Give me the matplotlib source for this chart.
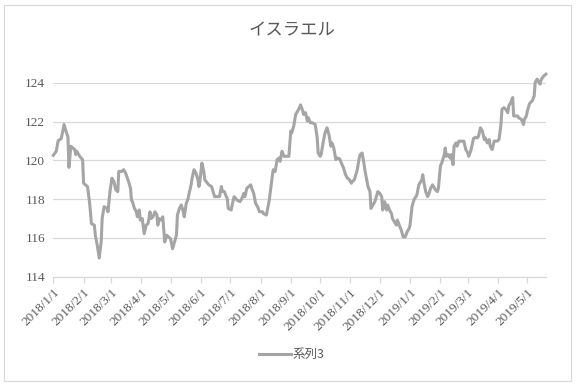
import matplotlib.pyplot as plt
import matplotlib.patches as patches
import pandas as pd

# dias contados a partir de 2018/1/1 e valor
dias = [0, 3, 5, 8, 9, 11, 13, 15, 16, 18, 20, 22, 23, 24, 27, 30, 31, 35, 37, 38,
        39, 42, 43, 45, 47, 49, 50, 52, 55, 56, 58, 60, 62, 64, 66, 67, 70, 72, 74, 77,
        79, 80, 81, 83, 85, 86, 88, 89, 91, 93, 95, 97, 99, 100, 102, 104, 106, 107, 108, 110,
        112, 114, 116, 120, 122, 124, 126, 127, 129, 131, 133, 134, 136, 138, 139, 141, 142, 144, 146, 148,
        149, 150, 152, 154, 155, 159, 162, 163, 165, 167, 170, 172, 173, 175, 177, 178, 179, 182, 183, 185,
        188, 191, 193, 195, 196, 198, 200, 202, 203, 205, 207, 209, 211, 214, 215, 218, 220, 221, 224, 225,
        227, 229, 231, 232, 234, 236, 238, 241, 243, 244, 246, 248, 249, 251, 253, 255, 256, 258, 260, 261,
        263, 265, 268, 270, 271, 273, 274, 276, 278, 280, 282, 284, 285, 287, 289, 290, 293, 294, 297, 299,
        301, 303, 305, 306, 308, 311, 313, 314, 316, 318, 319, 321, 322, 324, 325, 327, 329, 331, 332, 334,
        336, 337, 339, 341, 342, 344, 346, 347, 349, 351, 352, 354, 356, 358, 360, 362, 364, 365, 367, 369,
        371, 372, 374, 376, 377, 378, 379, 381, 383, 384, 386, 388, 389, 391, 393, 394, 396, 398, 400, 401,
        402, 404, 406, 407, 409, 410, 412, 413, 415, 418, 420, 422, 424, 425, 427, 429, 430, 432, 434, 435,
        437, 439, 441, 442, 444, 446, 447, 449, 451, 453, 454, 456, 458, 459, 461, 463, 465, 466, 468, 470,
        471, 473, 475, 476, 479, 481, 482, 484, 485, 487, 488, 490, 492, 493, 495, 496, 498, 499, 501, 503,
        504]

valores = [120.26, 120.47, 121.02, 121.11, 121.33, 121.85, 121.51, 121.20, 119.64, 120.73,
           120.64, 120.55, 120.30, 120.47, 120.21, 120.04, 118.82, 118.65, 117.87, 117.35,
           116.74, 116.66, 116.14, 115.62, 114.96, 115.79, 117.00, 117.61, 117.52, 117.35,
           118.39, 119.08, 118.91, 118.48, 118.39, 119.43, 119.43, 119.52, 119.34, 118.91,
           118.56, 117.95, 117.87, 117.52, 117.35, 117.09, 117.44, 116.92, 117.00, 116.22,
           116.66, 116.74, 117.35, 117.00, 117.09, 117.35, 117.18, 116.66, 117.00, 116.92,
           117.09, 115.79, 116.14, 115.96, 115.44, 115.79, 116.14, 117.18, 117.52, 117.70,
           117.35, 117.09, 117.78, 118.04, 118.30, 118.74, 119.08, 119.52, 119.34, 119.00,
           118.65, 118.91, 119.86, 119.43, 119.00, 118.74, 118.65, 118.48, 118.13, 118.13,
           118.13, 118.65, 118.39, 118.39, 118.13, 118.04, 117.52, 117.44, 117.70, 118.13,
           117.95, 117.87, 118.04, 118.30, 118.13, 118.56, 118.65, 118.74, 118.56, 118.30,
           117.78, 117.61, 117.35, 117.35, 117.26, 117.18, 117.70, 117.96, 119.17, 119.52,
           119.43, 120.04, 120.12, 119.95, 120.47, 120.21, 120.21, 120.21, 121.51, 121.42,
           121.77, 122.37, 122.46, 122.63, 122.86, 122.58, 122.37, 122.46, 122.03, 122.20,
           121.94, 121.94, 121.85, 121.16, 120.38, 120.21, 120.30, 120.90, 121.42, 121.68,
           121.33, 120.73, 120.90, 120.64, 120.04, 120.12, 120.08, 119.95, 119.60, 119.26,
           119.08, 119.00, 118.82, 118.91, 119.00, 119.52, 120.12, 120.30, 120.38, 119.78,
           119.43, 118.91, 118.65, 118.39, 117.52, 117.70, 117.87, 118.22, 118.39, 118.30,
           118.13, 117.44, 117.87, 117.44, 117.70, 117.44, 117.26, 117.00, 116.83, 116.66,
           116.92, 116.66, 116.40, 116.05, 116.05, 116.31, 116.49, 116.66, 117.61, 117.96,
           118.13, 118.22, 118.74, 118.91, 119.00, 119.26, 118.91, 118.39, 118.13, 118.22,
           118.56, 118.74, 118.65, 118.48, 118.39, 118.56, 119.69, 119.95, 120.30, 120.64,
           120.21, 120.30, 120.12, 120.30, 119.78, 120.73, 120.90, 120.73, 120.99, 120.99,
           120.99, 120.56, 120.38, 120.21, 120.47, 120.90, 121.13, 121.19, 121.16, 121.25,
           121.68, 121.51, 121.07, 121.16, 120.90, 121.07, 120.73, 120.56, 120.99, 120.99,
           120.99, 121.07, 121.85, 122.63, 122.72, 122.63, 122.46, 122.81, 122.98, 123.24,
           122.29, 122.29, 122.29, 122.20, 122.11, 121.85, 122.11, 122.29, 122.55, 122.89,
           122.98, 123.06, 123.32, 124.02, 124.19, 124.10, 123.93, 124.14, 124.31, 124.40,
           124.45]

titulo = 'イスラエル'
serie = '系列3'
y_ticks = [114, 116, 118, 120, 122, 124]

inicio = pd.Timestamp('2018-01-01')
datas = inicio + pd.to_timedelta(dias, unit='D')
meses = pd.date_range('2018-01-01', '2019-05-01', freq='MS')
rotulos = [f'{d.year}/{d.month}/{d.day}' for d in meses]

cinza = '#a5a5a5'
texto = '#595959'
grade = '#d9d9d9'

fig = plt.figure(figsize=(5.83, 3.87), dpi=100)
ax = fig.add_axes([0.0914, 0.285, 0.845, 0.501])

ax.plot(datas, valores, color=cinza, linewidth=2.2, label=serie, clip_on=False,
        solid_joinstyle='round', zorder=3)

ax.set_xlim(inicio, datas[-1])
ax.set_ylim(114, 124)
ax.set_yticks(y_ticks)
ax.set_yticklabels([str(v) for v in y_ticks], family='Liberation Serif', fontsize=9.5, color=texto)
ax.set_xticks(meses)
ax.set_xticklabels(rotulos, rotation=45, ha='right', rotation_mode='anchor',
                   family='Liberation Serif', fontsize=9.5, color=texto)

ax.grid(axis='y', color=grade, linewidth=0.9)
ax.set_axisbelow(True)
for lado in ['top', 'right', 'left']:
    ax.spines[lado].set_visible(False)
ax.spines['bottom'].set_color(grade)
ax.spines['bottom'].set_linewidth(0.9)
ax.tick_params(axis='y', length=0, pad=6)
ax.tick_params(axis='x', length=4, color=grade, width=0.9, pad=3)

fig.text(0.5, 0.922, titulo, ha='center', va='center', fontsize=12.5, color=texto,
         family=['Noto Sans CJK JP', 'DejaVu Sans'])

leg = fig.legend(loc='center', bbox_to_anchor=(0.5, 0.083), frameon=False,
                 handlelength=2.6, handletextpad=0.1,
                 prop={'family': ['Noto Sans CJK JP', 'DejaVu Sans'], 'size': 9})
for t in leg.get_texts():
    t.set_color(texto)

# borda externa do grafico
fig.patches.append(patches.Rectangle((4 / 583, 6 / 387), 567 / 583, 376 / 387,
                                     transform=fig.transFigure, fill=False,
                                     edgecolor=grade, linewidth=0.9))

fig.savefig('out.png', dpi=100)
